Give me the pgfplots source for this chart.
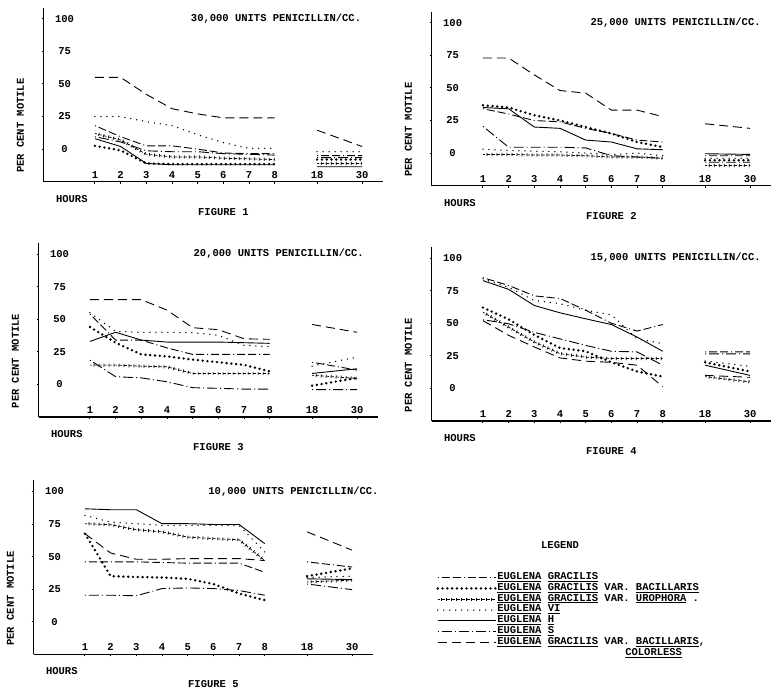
\documentclass[border=0pt]{standalone}
\usepackage{pgfplots}
\pgfplotsset{compat=1.18}
\usepackage{pgfplotstable}
\usepackage{fontspec}
\setmonofont{Liberation Mono}
\newcommand{\tw}{\fontsize{10.5}{11}\selectfont\ttfamily\bfseries}

% x positions: hours 1..8 -> 0..7, 18 -> 8.65, 30 -> 10.4 ; nan row breaks the line
\pgfplotstableread{
x    gr   bac   uro  vi   h     s    col
0    18   2.5   12   25   8     9.5  55
1    9.5  -1    7    25   2     5.5  55
2    2.5  -11   -4   21   -11   -1.3 42
3    2.5  -11.5 -6   18   -12   -2   31
4    0    -11.5 -6   11   -12   -2   27
5    -3   -11.5 -7   5    -12   -3.5 24
6    -3.5 -11.5 -7.5 0.5  -12   -4   24
7    -3.5 -11.5 -8   0.5  -12   -4.6 24
7.5  nan  nan   nan  nan  nan   nan  nan
8.65 -5   -8    -11  -2   -13.5 -6.5 14.5
10.4 -5   -8    -11  -2   -13.5 -6.5 2
}\figA
\pgfplotstableread{
x    gr   bac   uro  vi   h    s    col
0    34   36.7  -1   3    35   20.5 73
1    30   35    -1   2    34   4.5  73
2    25   29    -1.5 1.5  20   4.5  60
3    24   25    -1.5 1    19   4.5  48
4    19   20    -2   0    10   4    46
5    15   15    -3   -1   8.5  -2   33
6    10   8.5   -3   0    3.3  -3   33
7    8.5  4.6   -4   -2   2.6  -4   28
7.5  nan  nan   nan  nan  nan  nan  nan
8.65 -2   -5.5  -9.5 -4   -0.5 -7   22.5
10.4 -2   -5.5  -9.5 -4   -1   -7   19
}\figB
\pgfplotstableread{
x    gr  bac  uro  vi   h    s    col
0    54  44   14.8 55   33   18.6 65
1    34  32   14.8 40.7 40   5.9  65
2    34  23   14   40   34   5    65
3    28  21.5 13.5 40   32.5 2    57
4    23  19   8.4  39.7 32.5 -2.5 43.5
5    23  17   8.4  37.7 32.5 -3   42
6    23  15   8.4  30   32   -3.6 35
7    23  10   8.4  29   31.5 -3.6 34.6
7.5  nan nan  nan  nan  nan  nan  nan
8.65 17  -1   7    14   8.4  -4   46
10.4 11  5    4.6  21   12   -4   40
}\figC
\pgfplotstableread{
x    gr  bac  uro  vi   h    s    col
0    85  62   58.5 84   82.7 52.7 52
1    79  53   47   77.6 76   49.6 40.7
2    71  41   35.6 67.4 63.6 43   31.8
3    69  31   26.7 65   58   38   23.4
4    60  28.5 24   60   53.4 33   20.9
5    50  20   23   56.5 49   28.5 20
6    44  13   23   38   39.4 28   17.8
7    49  9    23   34.4 28.5 17.8 1.3
7.5  nan nan  nan  nan  nan  nan  nan
8.65 28  20   9    21   17.8 26.5 10
10.4 28  13   5    17   10   26.5 8.5
}\figD
\pgfplotstableread{
x    gr   bac  uro  vi   h    s    col
0    46   67.6 75.3 81.6 86.7 20.4 67.6
1    46   35   74.5 76.5 86   20.4 52.8
2    46   34.4 70.7 75.3 86   20   48
3    45.5 34   69   74   75.3 25.5 48
4    45   33   65   74   75.3 26   48.5
5    45   29   63.8 74   74.7 25.5 48.5
6    45   21.7 63   74   74.7 24   48.5
7    38   16.6 47   53.6 60   20.4 47
7.5  nan  nan  nan  nan  nan  nan  nan
8.65 46   35   30.6 34   33   29   69
10.4 42   41   32   35   32.4 24.7 55
}\figE

\pgfplotsset{
  fig/.style={
    scale only axis, width=339pt, height=174pt,
    xmin=-2, xmax=11.2, ymin=-25, ymax=108.5,
    axis x line=bottom, axis y line=left,
    axis line style={line width=1.4pt,-},
    xtick={0,1,2,3,4,5,6,7,8.65,10.4},
    xticklabels={1,2,3,4,5,6,7,8,18,30},
    ytick={0,25,50,75,100}, yticklabels={0,25,50,75,100},
    tick align=outside, major tick length=2pt,
    tick style={line width=1pt,black},
    xticklabel style={font=\tw, anchor=south, yshift=2pt},
    yticklabel style={font=\tw, anchor=center, xshift=23pt},
    clip=false, unbounded coords=jump,
    anchor=south west,
  },
  gr/.style={black, line width=0.9pt, dash pattern=on 1pt off 3pt on 8pt off 3pt on 8pt off 3pt},
  bac/.style={black, line width=2.7pt, line cap=round, dash pattern=on 0pt off 4.8pt},
  % plus signs: thin bars along the line over short thick bars across it
  uro/.style={black, line width=0.7pt, dash pattern=on 3.2pt off 1.8pt, dash phase=1.3pt,
    preaction={draw, black, line width=3.2pt, dash pattern=on 0.7pt off 4.3pt}},
  vi/.style={black, line width=1.5pt, line cap=round, dash pattern=on 0pt off 6pt},
  h/.style={black, line width=0.9pt},
  s/.style={black, line width=0.9pt, dash pattern=on 1pt off 3pt on 10pt off 3pt},
  col/.style={black, line width=0.9pt, dash pattern=on 9pt off 5pt},
}

\newcommand{\panel}[1]{%
  \addplot[gr]  table[x=x,y=gr]{#1};
  \addplot[bac] table[x=x,y=bac]{#1};
  \addplot[uro] table[x=x,y=uro]{#1};
  \addplot[vi]  table[x=x,y=vi]{#1};
  \addplot[h]   table[x=x,y=h]{#1};
  \addplot[s]   table[x=x,y=s]{#1};
  \addplot[col] table[x=x,y=col]{#1};
}
\newcommand{\texts}[3]{%
  \node[font=\tw, anchor=west] at (axis cs:#1,100) {#2};
  \node[font=\tw, rotate=90] at (axis cs:-2.9,18) {PER CENT MOTILE};
  \node[font=\tw] at (axis cs:-0.9,-38) {HOURS};
  \node[font=\tw] at (axis cs:5,-48) {FIGURE #3};
}

\begin{document}
\begin{tikzpicture}
\useasboundingbox (0,0) rectangle (779pt,690pt);

\begin{axis}[fig, at={(43.6pt,508.3pt)}]
  \panel{\figA}
  \texts{3.6}{30,000 UNITS PENICILLIN/CC.}{1}
\end{axis}

\begin{axis}[fig, at={(431.6pt,504.3pt)}]
  \panel{\figB}
  \texts{4.05}{25,000 UNITS PENICILLIN/CC.}{2}
\end{axis}

\begin{axis}[fig, at={(38.6pt,273pt)}]
  \panel{\figC}
  \texts{3.9}{20,000 UNITS PENICILLIN/CC.}{3}
\end{axis}

\begin{axis}[fig, at={(431.6pt,269pt)}]
  \panel{\figD}
  \texts{4.05}{15,000 UNITS PENICILLIN/CC.}{4}
\end{axis}

\begin{axis}[fig, at={(33.6pt,35.6pt)},
  legend style={at={(1.178,0.485)}, anchor=north west, draw=none, fill=none,
    font=\tw, row sep=0pt,
    nodes={inner sep=0pt, text height=7.3pt, text depth=3.5pt},
    /tikz/every even column/.append style={column sep=18pt}},
  legend cell align=left,
  legend image code/.code={\draw[#1] (0pt,0pt) -- (58pt,0pt);}]
  \panel{\figE}
  \addlegendentry{\underline{EUGLENA} \underline{GRACILIS}}
  \addlegendentry{\underline{EUGLENA} \underline{GRACILIS} VAR. \underline{BACILLARIS}}
  \addlegendentry{\underline{EUGLENA} \underline{GRACILIS} VAR. \underline{UROPHORA} .}
  \addlegendentry{\underline{EUGLENA} \underline{VI}}
  \addlegendentry{\underline{EUGLENA} \underline{H}}
  \addlegendentry{\underline{EUGLENA} \underline{S}}
  \addlegendentry{\begin{tabular}[t]{@{}l@{}}\underline{EUGLENA} \underline{GRACILIS} VAR. \underline{BACILLARIS},\\\hspace*{128pt}\underline{COLORLESS}\end{tabular}}
  \texts{4.67}{10,000 UNITS PENICILLIN/CC.}{5}
  \node[font=\tw] at (axis cs:18.5,59) {LEGEND};
\end{axis}
\end{tikzpicture}
\end{document}
